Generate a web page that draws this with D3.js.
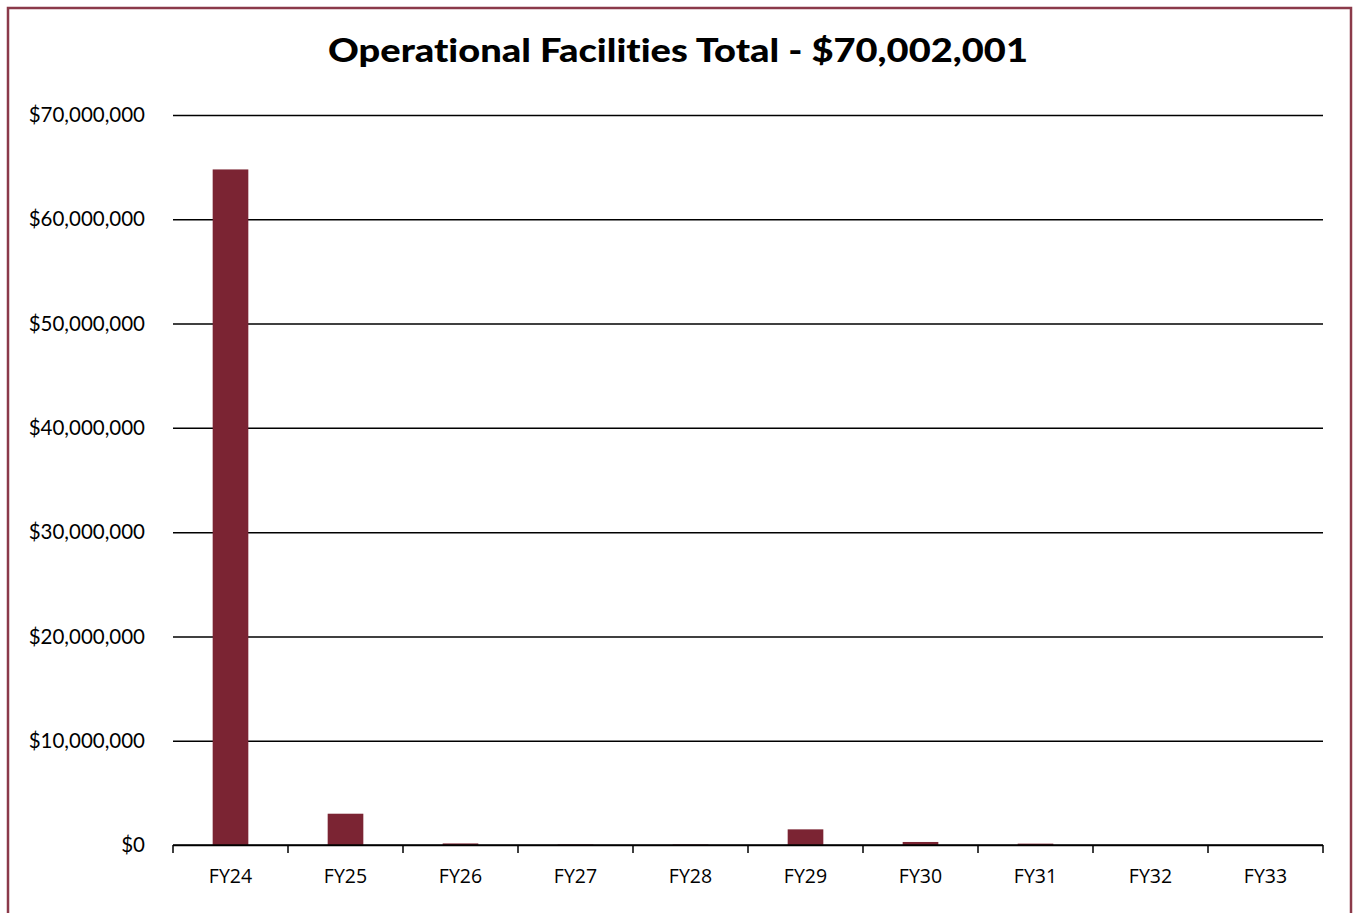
<!DOCTYPE html>
<html><head><meta charset="utf-8">
<script src="https://cdn.jsdelivr.net/npm/d3@7"></script>
<style>body{margin:0;background:#fff;} svg{display:block;} svg text{font-variant-ligatures:none;font-feature-settings:"liga" 0,"dlig" 0,"clig" 0;}</style>
</head><body>
<script>
const categories = ["FY24","FY25","FY26","FY27","FY28","FY29","FY30","FY31","FY32","FY33"];
const values = [64780000, 3000000, 150000, 40000, 40000, 1500000, 290000, 130000, 0, 0];
const yTicks = [0,10000000,20000000,30000000,40000000,50000000,60000000,70000000];
const title = "Operational Facilities Total - $70,002,001";

const W = 1354, H = 913;
const svg = d3.select("body").append("svg").attr("width", W).attr("height", H);
svg.append("rect").attr("x",8).attr("y",8).attr("width",1343).attr("height",920)
  .attr("fill","#fff").attr("stroke","#8b3a4a").attr("stroke-width",2.5);

const m = {l:173, r:1323, t:115, b:845};
const x = d3.scaleBand().domain(categories).range([m.l, m.r]).paddingInner(0.69).paddingOuter(0.345);
const y = d3.scaleLinear().domain([0,70000000]).range([m.b, m.t]);

svg.append("text").attr("x", 678).attr("y", 62).attr("text-anchor","middle")
  .attr("font-family","Lato, sans-serif").attr("font-weight","900").attr("font-size",33)
  .style("font-variant-ligatures","none").style("font-feature-settings","'liga' 0, 'dlig' 0")
  .attr("textLength",700).attr("lengthAdjust","spacingAndGlyphs")
  .text(title);

// gridlines
const grid = svg.append("g").attr("transform",`translate(${m.l},0)`)
  .call(d3.axisLeft(y).tickValues(yTicks).tickSize(-(m.r-m.l)).tickFormat(""));
grid.select(".domain").remove();
grid.selectAll("line").attr("stroke","#000").attr("stroke-width",1.5);

// y labels
svg.append("g").selectAll("text").data(yTicks).join("text")
  .attr("x", 145).attr("y", d=>y(d)).attr("dy","0.35em").attr("text-anchor","end")
  .attr("font-family","Lato, sans-serif").attr("font-size",20.5).attr("fill","#000")
  .text(d=>"$"+d3.format(",")(d));

// bars
svg.append("g").selectAll("rect").data(values).join("rect")
  .attr("x",(d,i)=>x(categories[i])).attr("width",x.bandwidth())
  .attr("y",d=>y(d)).attr("height",d=>m.b-y(d))
  .attr("fill","#7b2433");

// x axis
const xa = svg.append("g").attr("transform",`translate(0,${m.b})`);
xa.append("line").attr("x1",m.l).attr("x2",m.r).attr("stroke","#000").attr("stroke-width",1.5);
const bounds = d3.range(categories.length+1).map(i=>m.l + i*(m.r-m.l)/categories.length);
xa.selectAll("line.tk").data(bounds).join("line").attr("class","tk")
  .attr("x1",d=>d).attr("x2",d=>d).attr("y1",0).attr("y2",8).attr("stroke","#000").attr("stroke-width",1.5);
xa.selectAll("text").data(categories).join("text")
  .attr("x",d=>x(d)+x.bandwidth()/2).attr("y",38).attr("text-anchor","middle")
  .attr("font-family","'Open Sans', sans-serif").attr("font-size",19.5).attr("fill","#000")
  .text(d=>d);
</script>
</body></html>
